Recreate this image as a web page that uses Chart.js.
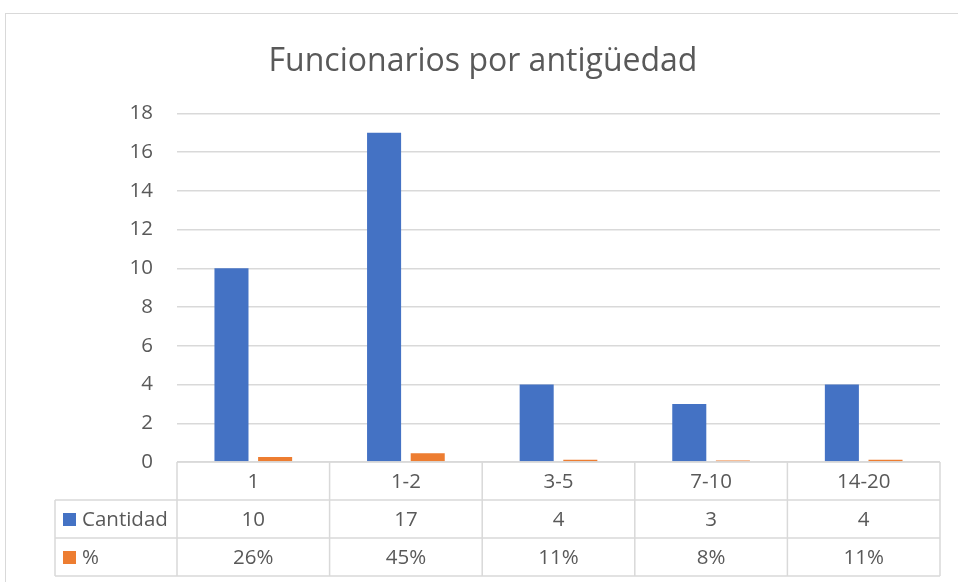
<!DOCTYPE html>
<html>
<head>
<meta charset="utf-8">
<script src="https://cdn.jsdelivr.net/npm/chart.js@4.4.1/dist/chart.umd.min.js"></script>
<style>
  html, body { margin: 0; padding: 0; background: #fff; }
  canvas { display: block; }
</style>
</head>
<body>
<canvas id="grafico" width="958" height="582"></canvas>
<script>
// Datos
const categorias = ["1", "1-2", "3-5", "7-10", "14-20"];
const cantidad = [10, 17, 4, 3, 4];
const porcentaje = [0.26, 0.45, 0.11, 0.08, 0.11];
const serieNombres = ["Cantidad", "%"];
const colores = ["#4472C4", "#ED7D31"];

const gris = "#595959";
const linea = "#D9D9D9";
const fuente = "'Open Sans', 'Noto Sans', sans-serif";

// Borde exterior del área del gráfico
const bordePlugin = {
  id: "borde",
  beforeDraw(chart) {
    const ctx = chart.ctx;
    ctx.save();
    ctx.strokeStyle = linea;
    ctx.lineWidth = 1;
    ctx.strokeRect(5.5, 13.5, 1200, 1200);
    ctx.restore();
  }
};

// Tabla de datos bajo el eje, como en Excel
const tablaPlugin = {
  id: "tabla",
  afterDraw(chart) {
    const ctx = chart.ctx;
    const x = chart.scales.x;
    const area = chart.chartArea;
    const n = categorias.length;
    const ancho = (area.right - area.left) / n;
    const filaAlto = 38;
    const top = area.bottom;
    const izq = 55;
    const filas = [top, top + filaAlto, top + filaAlto * 2, top + filaAlto * 3];

    ctx.save();
    ctx.strokeStyle = linea;
    ctx.lineWidth = 1.5;
    ctx.beginPath();
    // horizontales
    ctx.moveTo(area.left, filas[0]); ctx.lineTo(area.right, filas[0]);
    for (let r = 1; r < filas.length; r++) {
      ctx.moveTo(izq, filas[r]); ctx.lineTo(area.right, filas[r]);
    }
    // verticales
    ctx.moveTo(izq, filas[1]); ctx.lineTo(izq, filas[3]);
    for (let i = 0; i <= n; i++) {
      const px = area.left + i * ancho;
      ctx.moveTo(px, filas[0]); ctx.lineTo(px, filas[3]);
    }
    ctx.stroke();

    ctx.fillStyle = gris;
    ctx.font = "20.5px " + fuente;
    ctx.textAlign = "center";
    ctx.textBaseline = "middle";
    categorias.forEach((c, i) => {
      const cx = x.getPixelForValue(i);
      ctx.fillText(c, cx, filas[0] + filaAlto / 2 + 1);
      ctx.fillText(String(cantidad[i]), cx, filas[1] + filaAlto / 2 + 1);
      ctx.fillText(Math.round(porcentaje[i] * 100) + "%", cx, filas[2] + filaAlto / 2 + 1);
    });

    // claves de leyenda
    ctx.textAlign = "left";
    serieNombres.forEach((nombre, k) => {
      const cy = filas[k + 1] + filaAlto / 2;
      ctx.fillStyle = colores[k];
      ctx.fillRect(63, cy - 6, 13, 13);
      ctx.fillStyle = gris;
      ctx.fillText(nombre, 82, cy + 1);
    });
    ctx.restore();
  }
};

new Chart(document.getElementById("grafico"), {
  type: "bar",
  data: {
    labels: categorias,
    datasets: [
      { label: serieNombres[0], data: cantidad, backgroundColor: colores[0],
        categoryPercentage: 0.572, barPercentage: 0.78 },
      { label: serieNombres[1], data: porcentaje, backgroundColor: colores[1],
        categoryPercentage: 0.572, barPercentage: 0.78 }
    ]
  },
  options: {
    responsive: false,
    animation: false,
    devicePixelRatio: 1,
    layout: { padding: { left: 26, right: 18, top: 0, bottom: 0 } },
    plugins: {
      legend: { display: false },
      tooltip: { enabled: false },
      title: {
        display: true,
        text: "Funcionarios por antigüedad",
        color: gris,
        font: { family: fuente, size: 32, weight: "normal" },
        padding: { top: 43, bottom: 32 }
      }
    },
    scales: {
      x: {
        grid: { display: false },
        border: { display: false },
        ticks: { display: false },
        afterFit: s => { s.height = 120; }
      },
      y: {
        min: 0,
        max: 18,
        ticks: { stepSize: 2, color: gris, padding: 24, font: { family: fuente, size: 20.5 } },
        grid: { color: linea, lineWidth: 1.5, drawTicks: false },
        border: { display: false },
        afterFit: s => { s.width = 151; }
      }
    }
  },
  plugins: [bordePlugin, tablaPlugin]
});
</script>
</body>
</html>
